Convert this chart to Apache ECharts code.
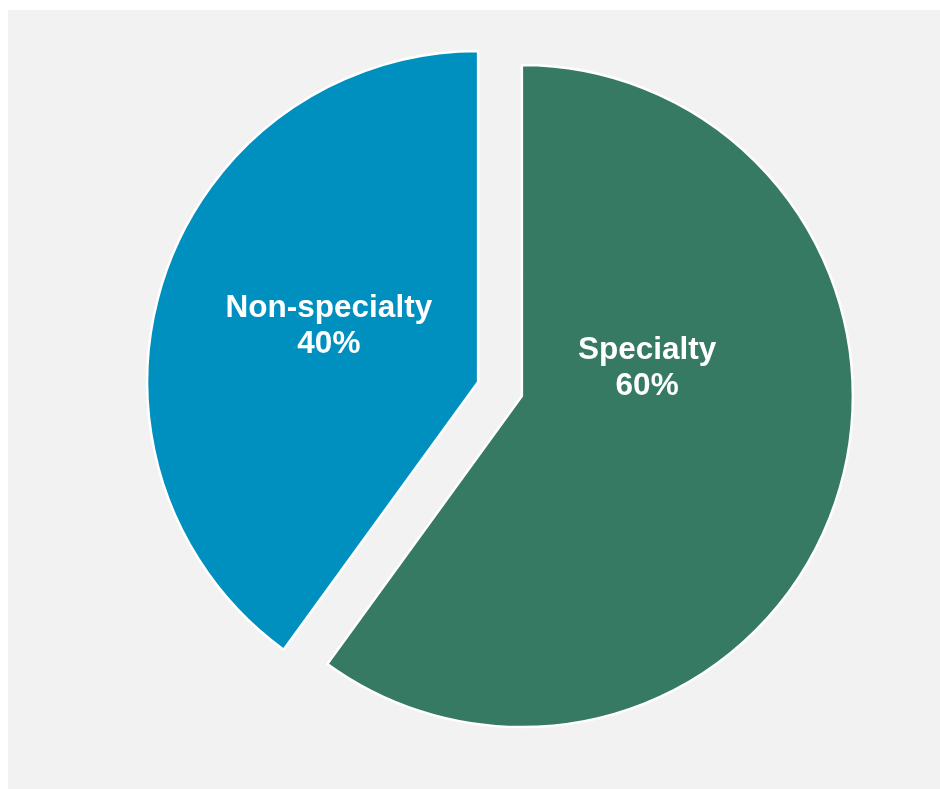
<!DOCTYPE html>
<html>
<head>
<meta charset="utf-8">
<script src="https://cdn.jsdelivr.net/npm/echarts@6/dist/echarts.min.js"></script>
<style>
  html, body { margin: 0; padding: 0; background: #ffffff; }
  #chart {
    position: absolute;
    left: 8px;
    top: 10px;
    width: 932px;
    height: 779px;
    background-color: #f2f2f2;
  }
</style>
</head>
<body>
<div id="chart"></div>
<script>
// shares of total
var categories = ['Specialty', 'Non-specialty'];
var shares = [60, 40];
var colors = ['#367a63', '#0090c0'];
// manual nudges of the labels, as in the original
var labelOffsets = [[-35, -80], [11, -4]];

var chart = echarts.init(document.getElementById('chart'));

var pieData = categories.map(function (name, i) {
  return {
    name: name,
    value: shares[i],
    selected: true,
    itemStyle: { color: colors[i] }
  };
});

var option = {
  animation: false,
  series: [
    {
      type: 'pie',
      center: [492, 379],
      radius: [0, 331],
      startAngle: 90,
      clockwise: true,
      selectedMode: 'multiple',
      selectedOffset: 23,
      itemStyle: {
        borderColor: '#ffffff',
        borderWidth: 2.5
      },
      label: {
        show: true,
        position: 'inside',
        color: '#ffffff',
        fontFamily: 'Liberation Sans, Arial, sans-serif',
        fontWeight: 'bold',
        fontSize: 31.5,
        lineHeight: 36,
        formatter: function (p) {
          return p.name + '\n' + p.value + '%';
        }
      },
      labelLayout: function (params) {
        var off = labelOffsets[params.dataIndex];
        return { dx: off[0], dy: off[1] };
      },
      labelLine: { show: false },
      emphasis: { disabled: true },
      data: pieData
    }
  ]
};

chart.setOption(option);
</script>
</body>
</html>
